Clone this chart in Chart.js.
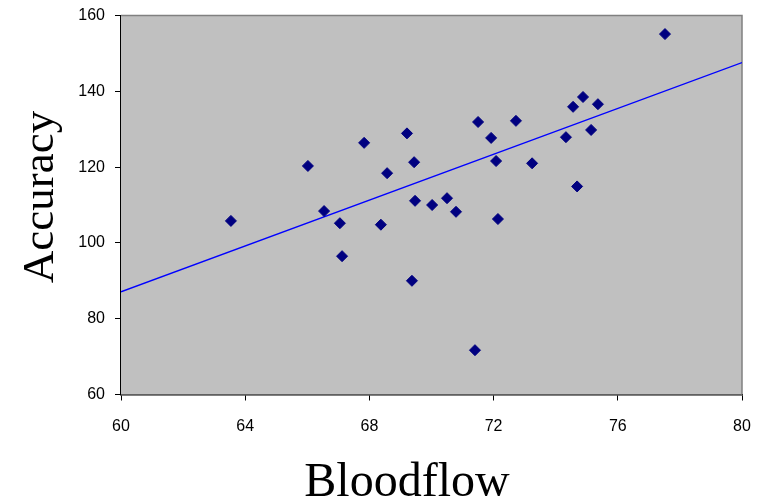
<!DOCTYPE html>
<html>
<head>
<meta charset="utf-8">
<script src="https://cdn.jsdelivr.net/npm/chart.js@4/dist/chart.umd.min.js"></script>
<style>
html,body{margin:0;padding:0;background:#fff;}
canvas{display:block;}
</style>
</head>
<body>
<canvas id="chart" width="757" height="499"></canvas>
<script>
// ================= DATA =================
let bloodflow=[63.54,66.02,66.54,67.05,67.12,67.83,68.37,68.57,69.21,69.44,69.37,69.47,70.02,70.50,70.79,71.40,71.50,71.92,72.08,72.14,72.72,73.24,74.33,74.56,74.69,74.88,75.14,75.36,77.52];
let accuracy=[105.8,120.3,108.4,105.2,96.5,126.4,104.8,118.4,128.9,121.3,90.0,111.1,110.0,111.8,108.2,71.7,131.9,127.7,121.6,106.3,132.2,121.0,127.9,135.9,114.9,138.5,129.8,136.6,155.1];
let trendX=[60,80];
let trendY=[87.1,147.6];
let xTicks=[60,64,68,72,76,80];
let yTicks=[60,80,100,120,140,160];

let points=bloodflow.map((b,i)=>({x:b,y:accuracy[i]}));
let trend=trendX.map((t,i)=>({x:t,y:trendY[i]}));

// ================= PLOT FRAME + TITLES =================
let frame={
id:"frame",
beforeDatasetsDraw(chart){
let a=chart.chartArea,ctx=chart.ctx;
ctx.save();
ctx.fillStyle="#C0C0C0";
ctx.fillRect(a.left,a.top,a.right-a.left,a.bottom-a.top);
ctx.strokeStyle="#808080";
ctx.lineWidth=1.5;
ctx.beginPath();
ctx.moveTo(a.left,a.top);
ctx.lineTo(a.right,a.top);
ctx.lineTo(a.right,a.bottom);
ctx.stroke();
ctx.restore();
},
afterDraw(chart){
let ctx=chart.ctx;
ctx.save();
ctx.fillStyle="#000";
ctx.textAlign="center";
ctx.textBaseline="alphabetic";
ctx.font='48px "Liberation Serif"';
ctx.fillText("Bloodflow",407,496);
ctx.font='45px "Liberation Serif"';
ctx.translate(53,197);
ctx.rotate(-Math.PI/2);
ctx.fillText("Accuracy",0,0);
ctx.restore();
}
};

// ================= CHART =================
let tickFont={family:"Liberation Sans",size:16};

new Chart(document.getElementById("chart"),{
type:"scatter",
data:{
datasets:[{
label:"Accuracy",
data:points,
pointStyle:"rectRot",
pointRadius:5.5,
pointBackgroundColor:"#000080",
pointBorderColor:"#000080",
pointBorderWidth:1,
order:1
},{
label:"Trend",
data:trend,
showLine:true,
pointRadius:0,
borderColor:"#0000FF",
borderWidth:1.3,
fill:false,
order:2
}]
},
options:{
responsive:false,
animation:false,
devicePixelRatio:1,
layout:{padding:{left:0,top:15.5,right:15,bottom:0}},
plugins:{legend:{display:false},tooltip:{enabled:false}},
scales:{
x:{
type:"linear",
min:60,max:80,
afterBuildTicks(s){s.ticks=xTicks.map(v=>({value:v}));},
afterFit(s){s.height=104.5;s.paddingLeft=0;s.paddingRight=0;},
grid:{drawOnChartArea:false,drawTicks:true,tickLength:6,tickColor:"#000"},
border:{display:true,color:"#000",width:1.5},
ticks:{color:"#000",font:tickFont,padding:16,maxRotation:0}
},
y:{
type:"linear",
min:60,max:160,
afterBuildTicks(s){s.ticks=yTicks.map(v=>({value:v}));},
afterFit(s){s.width=121;s.paddingTop=0;s.paddingBottom=0;},
grid:{drawOnChartArea:false,drawTicks:true,tickLength:6,tickColor:"#000"},
border:{display:true,color:"#000",width:1.5},
ticks:{color:"#000",font:tickFont,padding:10}
}
}
},
plugins:[frame]
});
</script>
</body>
</html>
